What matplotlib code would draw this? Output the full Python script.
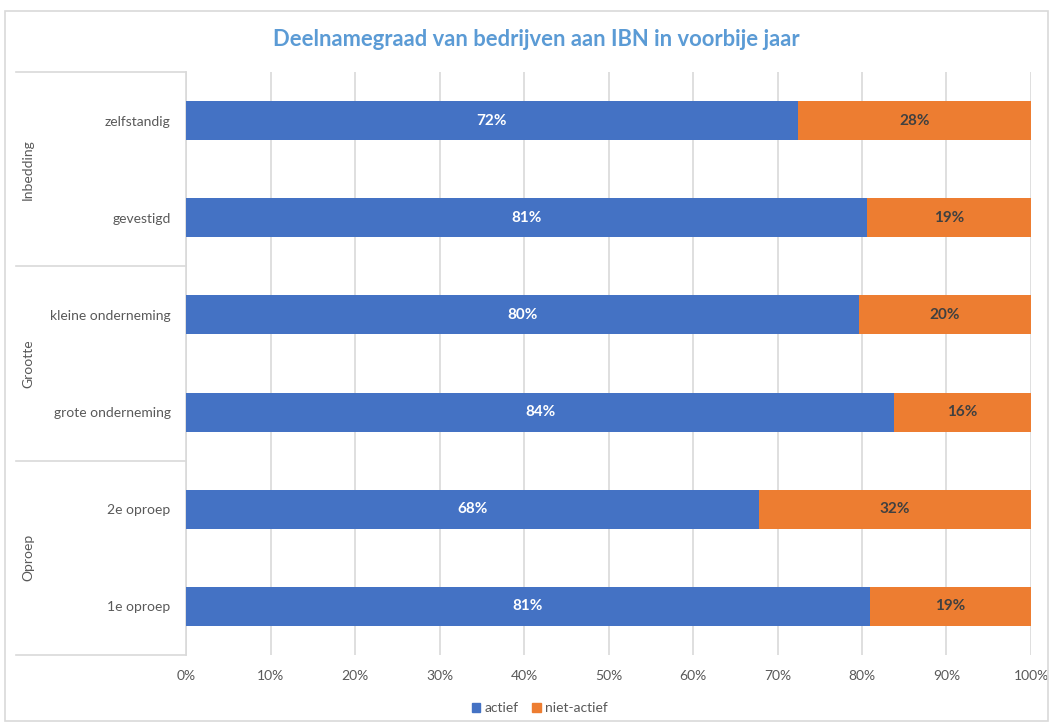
import matplotlib
matplotlib.use('Agg')
import matplotlib.pyplot as plt
from matplotlib.patches import Patch, Rectangle

plt.rcParams['font.family'] = ['Lato', 'DejaVu Sans']

categories = ['zelfstandig', 'gevestigd', 'kleine onderneming', 'grote onderneming', '2e oproep', '1e oproep']
groups = ['Inbedding', 'Grootte', 'Oproep']
actief = [72.4, 80.6, 79.6, 83.8, 67.8, 80.9]
niet_actief = [100 - a for a in actief]

blue = '#4472C4'
orange = '#ED7D31'
grey_txt = '#595959'
line_c = '#D9D9D9'

fig = plt.figure(figsize=(10.52, 7.24), dpi=100)
ax = fig.add_axes([186 / 1052, 1 - 655 / 724, 845 / 1052, 583 / 724])

y = list(range(len(categories)))
ax.barh(y, actief, height=0.4, color=blue, zorder=3)
ax.barh(y, niet_actief, left=actief, height=0.4, color=orange, zorder=3)

for i in y:
    ax.text(actief[i] / 2, i, f'{round(actief[i])}%', ha='center', va='center',
            color='white', fontsize=11, fontweight='bold', zorder=4)
    ax.text(actief[i] + niet_actief[i] / 2, i, f'{round(niet_actief[i])}%', ha='center', va='center',
            color='#404040', fontsize=11, fontweight='bold', zorder=4)

ax.set_xlim(0, 100)
ax.set_ylim(len(categories) - 0.5, -0.5)
ax.set_xticks(range(0, 101, 10))
ax.set_xticklabels([f'{t}%' for t in range(0, 101, 10)])
ax.set_yticks(y)
ax.set_yticklabels(categories)
ax.tick_params(axis='x', length=0, pad=11, labelsize=10, labelcolor=grey_txt)
ax.tick_params(axis='y', length=0, pad=11, labelsize=10, labelcolor=grey_txt)
ax.grid(axis='x', color=line_c, linewidth=1.2, zorder=0)
for s in ['top', 'right', 'bottom']:
    ax.spines[s].set_visible(False)
ax.spines['left'].set_color(line_c)
ax.spines['left'].set_linewidth(1.2)

# group brackets on the left
tr = ax.get_yaxis_transform()
for yy in [-0.5, 1.5, 3.5, 5.5]:
    ax.plot([-0.201, 0], [yy, yy], transform=tr, color=line_c, linewidth=1.2, clip_on=False)
for k, g in enumerate(groups):
    ax.text(-0.187, 2 * k + 0.5, g, transform=tr, rotation=90, ha='center', va='center',
            fontsize=10, color=grey_txt)

fig.text(0.51, 1 - 40 / 724, 'Deelnamegraad van bedrijven aan IBN in voorbije jaar',
         ha='center', va='center', fontsize=15.8, fontweight='bold', color='#5B9BD5')

fig.legend(handles=[Patch(color=blue, label='actief'), Patch(color=orange, label='niet-actief')],
           loc='center', bbox_to_anchor=(0.513, 1 - 708 / 724), ncol=2, frameon=False,
           handlelength=0.6, handleheight=0.6, handletextpad=0.3, columnspacing=1.0,
           fontsize=10, labelcolor=grey_txt)

fig.patches.append(Rectangle((5 / 1052, 1 - 721 / 724), 1043 / 1052, 710 / 724,
                             transform=fig.transFigure, fill=False, edgecolor=line_c, linewidth=1.2))

fig.savefig('out.png', dpi=100)
